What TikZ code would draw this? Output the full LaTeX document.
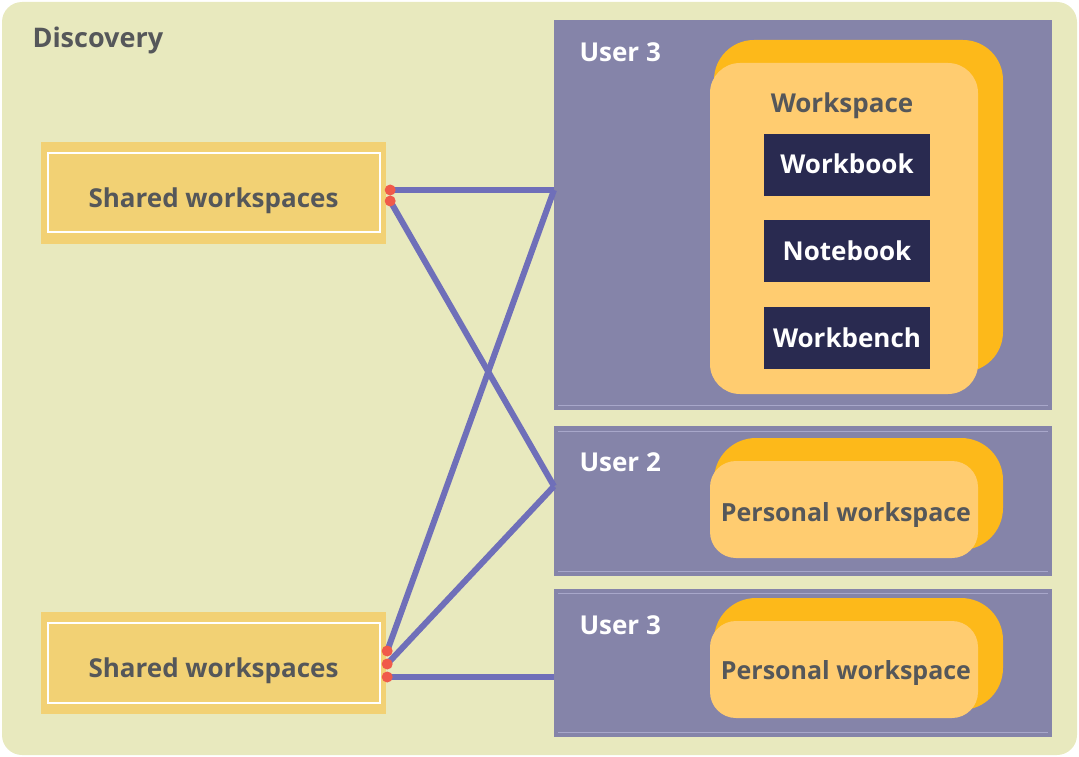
\documentclass[tikz,border=0pt]{standalone}
\usepackage{fontspec}
\setmainfont{Open Sans}
\usepackage{tikz}
\usetikzlibrary{positioning}
\definecolor{bgcol}{HTML}{E8E9BE}
\definecolor{panelcol}{HTML}{8584A9}
\definecolor{panelline}{HTML}{A8A7CA}
\definecolor{sharedcol}{HTML}{F2D174}
\definecolor{backcol}{HTML}{FDB91A}
\definecolor{frontcol}{HTML}{FFCC70}
\definecolor{darkcol}{HTML}{292A50}
\definecolor{txtgray}{HTML}{55575A}
\definecolor{linkcol}{HTML}{6F6FB9}
\definecolor{dotcol}{HTML}{F05A4A}

\begin{document}
\begin{tikzpicture}[
    x=1pt,y=-1pt,
    every node/.style={font=\fontsize{26}{30}\selectfont\bfseries},
    dot/.style={fill=dotcol,circle,inner sep=0pt,minimum size=11pt},
    shared/.style={fill=sharedcol,minimum width=345pt,minimum height=102pt,text=txtgray,
        text height=28pt,text depth=0pt},
    panel/.style={fill=panelcol,minimum width=498pt,anchor=north west,inner sep=0pt},
    user/.style={text=white,anchor=base west},
    card/.style={fill=darkcol,text=white,minimum width=166pt,minimum height=62pt,
        text height=18pt,text depth=0pt},
    pers/.style={text=txtgray,anchor=base,font=\fontsize{25}{30}\selectfont\bfseries},
    link/.style={draw=linkcol,line width=6pt}
    ]
    \useasboundingbox (0,0) rectangle (1079,757);
    \fill[bgcol,rounded corners=20pt] (2,2) rectangle (1077,755);
    \node[text=txtgray,anchor=base west,font=\fontsize{27}{30}\selectfont\bfseries] (disc) at (29,48) {Discovery};

    \node[shared] (sw1) at (213.5,193) {Shared workspaces};
    \node[shared] (sw2) at (213.5,663) {Shared workspaces};
    \draw[white,line width=1.5pt] ([shift={(7,11)}]sw1.north west) rectangle ([shift={(-6,-12)}]sw1.south east);
    \draw[white,line width=1.5pt] ([shift={(7,11)}]sw2.north west) rectangle ([shift={(-6,-11)}]sw2.south east);

    \node[panel,minimum height=390pt] (u3) at (554,20) {};
    \node[panel,minimum height=150pt] (u2) at (554,426) {};
    \node[panel,minimum height=148pt] (u1) at (554,589) {};
    \draw[panelline,line width=1pt] ([shift={(4,-5)}]u3.south west) -- ([shift={(-4,-5)}]u3.south east);
    \draw[panelline,line width=1pt] ([shift={(4,5)}]u2.north west) -- ([shift={(-4,5)}]u2.north east);
    \draw[panelline,line width=1pt] ([shift={(4,-5)}]u2.south west) -- ([shift={(-4,-5)}]u2.south east);
    \draw[panelline,line width=1pt] ([shift={(4,4)}]u1.north west) -- ([shift={(-4,4)}]u1.north east);
    \draw[panelline,line width=1pt] ([shift={(4,-5)}]u1.south west) -- ([shift={(-4,-5)}]u1.south east);
    \node[user] (u3lab) at (576,62) {User 3};
    \node[user] (u2lab) at (576,471) {User 2};
    \node[user] (u1lab) at (576,634) {User 3};

    \fill[backcol,rounded corners=40pt] (714,40) rectangle (1003,372);
    \fill[frontcol,rounded corners=30pt] (710,63) rectangle (978,394);
    \node[text=txtgray,anchor=base] (wslab) at (842,113) {Workspace};
    \node[card] (wbook) at (847,165) {Workbook};
    \node[card] (nbook) at (847,251) {Notebook};
    \node[card] (wbench) at (847,338) {Workbench};

    \fill[backcol,rounded corners=42pt] (714,438) rectangle (1003,550);
    \fill[frontcol,rounded corners=26pt] (710,461) rectangle (978,558);
    \node[pers] (pw2) at (846,521) {Personal workspace};
    \fill[backcol,rounded corners=42pt] (714,598) rectangle (1003,710);
    \fill[frontcol,rounded corners=26pt] (710,621) rectangle (978,718);
    \node[pers] (pw1) at (846,679) {Personal workspace};

    \coordinate (a1) at ([shift={(4,-3)}]sw1.east);
    \coordinate (a2) at ([shift={(4,8)}]sw1.east);
    \coordinate (b1) at ([shift={(1,-12)}]sw2.east);
    \coordinate (b2) at ([shift={(1,1)}]sw2.east);
    \coordinate (b3) at ([shift={(1,14)}]sw2.east);
    \coordinate (t3) at (u3.west |- a1);
    \coordinate (t2) at ([shift={(0,-15)}]u2.west);
    \coordinate (t1) at (u1.west |- b3);
    \draw[link] (a1) -- (t3);
    \draw[link] (a2) -- (t2);
    \draw[link] (b1) -- (t3);
    \draw[link] (b2) -- (t2);
    \draw[link] (b3) -- (t1);
    \node[dot] at (a1) {};
    \node[dot] at (a2) {};
    \node[dot] at (b1) {};
    \node[dot] at (b2) {};
    \node[dot] at (b3) {};
  \end{tikzpicture}
\end{document}
